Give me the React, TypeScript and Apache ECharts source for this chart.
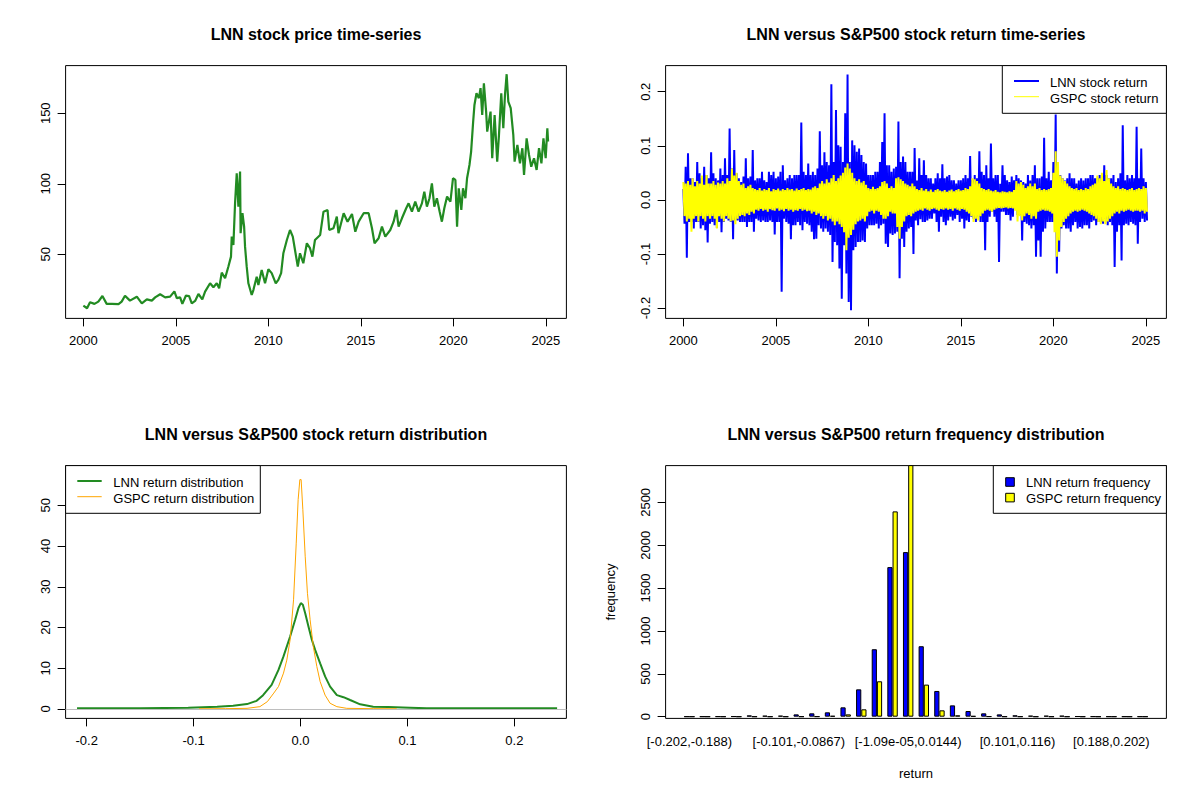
import { useEffect, useRef } from 'react'
import * as echarts from 'echarts'

const FONT = '"Liberation Sans", Arial, Helvetica, sans-serif'

// LNN closing price (decimal year, USD)
const priceYears = [
  2000.0, 2000.2, 2000.36, 2000.6, 2000.81, 2001.03, 2001.26, 2001.54, 2001.9, 2002.07,
  2002.25, 2002.52, 2002.89, 2003.16, 2003.43, 2003.7, 2003.88, 2004.15, 2004.42, 2004.69,
  2004.92, 2005.05, 2005.23, 2005.35, 2005.54, 2005.71, 2005.86, 2006.04, 2006.22, 2006.43,
  2006.58, 2006.85, 2007.03, 2007.21, 2007.34, 2007.48, 2007.66, 2007.84, 2007.98, 2008.02,
  2008.11, 2008.2, 2008.29, 2008.38, 2008.47, 2008.5, 2008.6, 2008.69, 2008.74, 2008.83,
  2008.92, 2009.1, 2009.19, 2009.37, 2009.46, 2009.64, 2009.82, 2010.0, 2010.18, 2010.4,
  2010.54, 2010.69, 2010.81, 2011.0, 2011.17, 2011.32, 2011.44, 2011.59, 2011.71, 2011.89,
  2012.08, 2012.25, 2012.38, 2012.52, 2012.8, 2012.98, 2013.2, 2013.29, 2013.52, 2013.7,
  2013.79, 2014.07, 2014.28, 2014.52, 2014.7, 2014.88, 2015.15, 2015.42, 2015.6, 2015.74,
  2015.96, 2016.14, 2016.32, 2016.59, 2016.77, 2016.92, 2017.04, 2017.22, 2017.45, 2017.58,
  2017.76, 2017.94, 2018.12, 2018.3, 2018.43, 2018.57, 2018.71, 2018.84, 2018.97, 2019.11,
  2019.26, 2019.38, 2019.51, 2019.66, 2019.84, 2019.98, 2020.11, 2020.2, 2020.29, 2020.43,
  2020.52, 2020.65, 2020.74, 2020.87, 2020.96, 2021.07, 2021.14, 2021.25, 2021.38, 2021.47,
  2021.56, 2021.65, 2021.77, 2021.83, 2022.01, 2022.1, 2022.23, 2022.37, 2022.46, 2022.59,
  2022.7, 2022.79, 2022.88, 2022.97, 2023.1, 2023.24, 2023.31, 2023.46, 2023.6, 2023.73,
  2023.82, 2023.96, 2024.09, 2024.21, 2024.36, 2024.5, 2024.63, 2024.76, 2024.87, 2024.99,
  2025.08, 2025.12,
]
const priceValues = [
  13.5, 11.7, 16.0, 14.8, 16.4, 20.4, 14.8, 14.8, 14.6, 16.4,
  20.6, 17.1, 19.9, 15.2, 18.0, 17.1, 19.4, 21.6, 19.4, 19.9,
  23.7, 18.9, 19.4, 14.8, 20.6, 20.4, 15.2, 16.9, 21.8, 18.0,
  23.5, 29.4, 26.6, 29.4, 25.9, 37.0, 33.0, 41.3, 48.3, 62.5,
  56.6, 86.2, 107.4, 83.8, 108.6, 64.9, 79.1, 69.6, 55.4, 41.2,
  29.4, 21.1, 24.6, 34.1, 28.2, 38.9, 29.4, 39.4, 36.6, 29.4,
  31.8, 36.6, 50.7, 60.1, 67.2, 62.5, 53.0, 41.2, 50.7, 43.6,
  57.8, 54.3, 48.3, 60.1, 63.7, 80.2, 81.4, 67.2, 68.4, 76.7,
  64.9, 79.1, 73.1, 78.6, 66.0, 73.1, 79.1, 79.1, 68.4, 57.8,
  61.3, 69.6, 62.5, 67.2, 73.1, 81.4, 69.6, 75.5, 82.6, 86.1,
  80.2, 87.3, 80.2, 86.1, 94.4, 83.8, 89.7, 100.3, 83.8, 89.7,
  80.2, 73.1, 82.6, 90.9, 87.3, 103.9, 102.7, 69.6, 96.8, 81.4,
  96.8, 89.7, 103.9, 113.3, 122.8, 144.1, 155.9, 164.2, 160.7, 167.8,
  148.8, 171.3, 151.2, 137.0, 151.2, 118.1, 148.8, 115.7, 133.4, 164.2,
  139.4, 163.0, 177.7, 158.3, 153.6, 134.6, 115.7, 127.5, 114.5, 125.2,
  106.2, 132.2, 120.4, 112.1, 118.1, 109.8, 125.2, 114.5, 132.2, 118.1,
  139.4, 130.0,
]

// daily returns, read as upper / lower extremes per eighth of a year from 2000
const returnStart = 2000
const returnStep = 0.125
const lnnUp = [
  0.02, 0.061, 0.086, 0.04, 0.04, 0.033, 0.07, 0.049, 0.04, 0.061,
  0.046, 0.04, 0.088, 0.049, 0.04, 0.036, 0.058, 0.046, 0.077, 0.046,
  0.132, 0.058, 0.092, 0.049, 0.04, 0.033, 0.043, 0.077, 0.04, 0.043,
  0.092, 0.036, 0.04, 0.04, 0.052, 0.036, 0.033, 0.052, 0.046, 0.052,
  0.04, 0.043, 0.052, 0.064, 0.036, 0.04, 0.046, 0.04, 0.046, 0.046,
  0.046, 0.143, 0.052, 0.046, 0.067, 0.046, 0.052, 0.046, 0.058, 0.127,
  0.064, 0.088, 0.07, 0.064, 0.214, 0.07, 0.166, 0.101, 0.098, 0.07,
  0.16, 0.232, 0.07, 0.11, 0.101, 0.089, 0.095, 0.083, 0.07, 0.067,
  0.046, 0.046, 0.046, 0.052, 0.052, 0.07, 0.107, 0.16, 0.064, 0.064,
  0.052, 0.058, 0.061, 0.145, 0.07, 0.08, 0.07, 0.052, 0.052, 0.052,
  0.096, 0.036, 0.077, 0.046, 0.073, 0.046, 0.04, 0.04, 0.03, 0.04,
  0.049, 0.04, 0.066, 0.04, 0.043, 0.046, 0.036, 0.036, 0.03, 0.036,
  0.036, 0.04, 0.046, 0.04, 0.081, 0.036, 0.046, 0.04, 0.09, 0.052,
  0.046, 0.064, 0.04, 0.104, 0.04, 0.046, 0.046, 0.03, 0.064, 0.046,
  0.036, 0.033, 0.043, 0.036, 0.046, 0.04, 0.036, 0.033, 0.03, 0.046,
  0.036, 0.046, 0.064, 0.04, 0.04, 0.043, 0.115, 0.04, 0.052, 0.036,
  0.07, 0.158, 0.052, 0.046, 0.04, 0.036, 0.04, 0.049, 0.04, 0.04,
  0.03, 0.036, 0.04, 0.036, 0.04, 0.04, 0.046, 0.046, 0.04, 0.04,
  0.046, 0.033, 0.064, 0.046, 0.04, 0.04, 0.046, 0.033, 0.04, 0.049,
  0.138, 0.036, 0.046, 0.04, 0.046, 0.04, 0.135, 0.04, 0.095, 0.04,
  0.033,
]
const lnnDown = [
  -0.044, -0.107, -0.041, -0.041, -0.053, -0.041, -0.041, -0.053, -0.047, -0.056,
  -0.079, -0.044, -0.041, -0.047, -0.052, -0.041, -0.06, -0.041, -0.035, -0.038,
  -0.041, -0.073, -0.038, -0.038, -0.041, -0.041, -0.041, -0.05, -0.041, -0.041,
  -0.059, -0.035, -0.038, -0.041, -0.038, -0.041, -0.041, -0.038, -0.041, -0.064,
  -0.041, -0.041, -0.17, -0.035, -0.041, -0.044, -0.073, -0.047, -0.047, -0.041,
  -0.047, -0.056, -0.041, -0.044, -0.047, -0.059, -0.073, -0.072, -0.047, -0.053,
  -0.059, -0.053, -0.059, -0.065, -0.115, -0.078, -0.084, -0.127, -0.183, -0.084,
  -0.136, -0.189, -0.204, -0.093, -0.087, -0.078, -0.078, -0.075, -0.078, -0.053,
  -0.047, -0.047, -0.047, -0.044, -0.053, -0.047, -0.044, -0.081, -0.087, -0.062,
  -0.065, -0.062, -0.059, -0.145, -0.072, -0.087, -0.059, -0.053, -0.05, -0.1,
  -0.038, -0.047, -0.036, -0.041, -0.041, -0.038, -0.035, -0.035, -0.025, -0.041,
  -0.059, -0.031, -0.041, -0.047, -0.038, -0.031, -0.038, -0.035, -0.028, -0.041,
  -0.035, -0.053, -0.038, -0.041, -0.031, -0.035, -0.041, -0.031, -0.041, -0.041,
  -0.093, -0.041, -0.031, -0.022, -0.031, -0.041, -0.115, -0.022, -0.022, -0.028,
  -0.028, -0.038, -0.031, -0.016, -0.028, -0.028, -0.075, -0.041, -0.044, -0.047,
  -0.053, -0.047, -0.105, -0.075, -0.105, -0.059, -0.053, -0.041, -0.041, -0.041,
  -0.041, -0.136, -0.096, -0.053, -0.047, -0.053, -0.053, -0.059, -0.047, -0.041,
  -0.053, -0.05, -0.053, -0.047, -0.047, -0.053, -0.041, -0.038, -0.047, -0.041,
  -0.041, -0.044, -0.035, -0.047, -0.041, -0.047, -0.124, -0.059, -0.047, -0.112,
  -0.047, -0.044, -0.047, -0.041, -0.044, -0.047, -0.081, -0.041, -0.035, -0.041,
  -0.038,
]
const gspcUp = [
  0.033, 0.03, 0.035, 0.028, 0.04, 0.025, 0.035, 0.03, 0.045, 0.028,
  0.046, 0.03, 0.03, 0.035, 0.028, 0.032, 0.03, 0.035, 0.03, 0.04,
  0.035, 0.058, 0.045, 0.05, 0.035, 0.028, 0.03, 0.022, 0.025, 0.028,
  0.022, 0.02, 0.018, 0.022, 0.017, 0.02, 0.018, 0.022, 0.016, 0.02,
  0.018, 0.021, 0.017, 0.02, 0.018, 0.022, 0.019, 0.02, 0.017, 0.021,
  0.018, 0.02, 0.022, 0.018, 0.02, 0.019, 0.023, 0.025, 0.022, 0.03,
  0.035, 0.03, 0.038, 0.032, 0.04, 0.046, 0.035, 0.04, 0.045, 0.05,
  0.06, 0.067, 0.058, 0.05, 0.04, 0.035, 0.038, 0.032, 0.035, 0.028,
  0.022, 0.02, 0.024, 0.02, 0.022, 0.025, 0.033, 0.035, 0.03, 0.022,
  0.025, 0.022, 0.04, 0.042, 0.038, 0.035, 0.03, 0.028, 0.025, 0.03,
  0.025, 0.02, 0.018, 0.022, 0.017, 0.02, 0.016, 0.019, 0.015, 0.018,
  0.02, 0.017, 0.016, 0.018, 0.015, 0.017, 0.019, 0.016, 0.018, 0.02,
  0.017, 0.018, 0.022, 0.02, 0.025, 0.04, 0.038, 0.035, 0.03, 0.022,
  0.02, 0.018, 0.02, 0.017, 0.016, 0.018, 0.015, 0.014, 0.016, 0.015,
  0.014, 0.016, 0.015, 0.018, 0.035, 0.03, 0.033, 0.028, 0.022, 0.025,
  0.03, 0.025, 0.03, 0.02, 0.022, 0.018, 0.02, 0.018, 0.02, 0.022,
  0.05, 0.09, 0.07, 0.045, 0.04, 0.035, 0.03, 0.025, 0.022, 0.02,
  0.022, 0.018, 0.02, 0.018, 0.022, 0.02, 0.025, 0.028, 0.03, 0.045,
  0.04, 0.05, 0.035, 0.055, 0.04, 0.03, 0.025, 0.022, 0.025, 0.02,
  0.022, 0.02, 0.018, 0.02, 0.022, 0.018, 0.02, 0.022, 0.02, 0.025,
  0.022,
]
const gspcDown = [
  -0.03, -0.04, -0.035, -0.059, -0.035, -0.03, -0.04, -0.03, -0.035, -0.04,
  -0.03, -0.035, -0.03, -0.035, -0.053, -0.03, -0.035, -0.04, -0.03, -0.035,
  -0.04, -0.038, -0.045, -0.035, -0.03, -0.028, -0.03, -0.025, -0.028, -0.022,
  -0.025, -0.018, -0.02, -0.017, -0.02, -0.018, -0.022, -0.017, -0.019, -0.02,
  -0.016, -0.02, -0.018, -0.021, -0.017, -0.02, -0.018, -0.022, -0.019, -0.02,
  -0.017, -0.02, -0.018, -0.021, -0.02, -0.025, -0.022, -0.028, -0.025, -0.03,
  -0.035, -0.03, -0.038, -0.035, -0.04, -0.047, -0.04, -0.045, -0.05, -0.06,
  -0.093, -0.07, -0.065, -0.055, -0.045, -0.04, -0.038, -0.035, -0.04, -0.03,
  -0.022, -0.02, -0.025, -0.02, -0.022, -0.028, -0.035, -0.035, -0.03, -0.022,
  -0.025, -0.025, -0.05, -0.072, -0.05, -0.04, -0.03, -0.028, -0.03, -0.025,
  -0.022, -0.02, -0.018, -0.02, -0.016, -0.018, -0.02, -0.017, -0.016, -0.018,
  -0.02, -0.017, -0.018, -0.016, -0.018, -0.017, -0.02, -0.016, -0.018, -0.02,
  -0.017, -0.018, -0.022, -0.025, -0.03, -0.041, -0.035, -0.038, -0.03, -0.025,
  -0.02, -0.018, -0.02, -0.022, -0.018, -0.016, -0.015, -0.016, -0.015, -0.014,
  -0.016, -0.015, -0.016, -0.02, -0.04, -0.03, -0.038, -0.03, -0.025, -0.028,
  -0.035, -0.03, -0.035, -0.022, -0.02, -0.018, -0.02, -0.02, -0.022, -0.025,
  -0.06, -0.105, -0.075, -0.05, -0.041, -0.035, -0.03, -0.025, -0.022, -0.02,
  -0.022, -0.02, -0.018, -0.02, -0.022, -0.025, -0.028, -0.03, -0.035, -0.041,
  -0.045, -0.04, -0.045, -0.04, -0.035, -0.03, -0.025, -0.022, -0.025, -0.02,
  -0.022, -0.02, -0.018, -0.02, -0.022, -0.02, -0.02, -0.022, -0.02, -0.025,
  -0.022,
]

// kernel density estimates of the returns
const lnnDensX = [
  -0.209, -0.15, -0.105, -0.078, -0.063, -0.05, -0.041, -0.035, -0.027, -0.0206,
  -0.0159, -0.0097, -0.005, -0.0019, 0.0003, 0.0022, 0.0044, 0.0075, 0.0106, 0.0137,
  0.0184, 0.023, 0.0277, 0.034, 0.0402, 0.0464, 0.0558, 0.068, 0.082, 0.1025,
  0.118, 0.18, 0.24,
]
const lnnDensY = [
  0.16, 0.16, 0.33, 0.57, 0.8, 1.2, 2.0, 3.4, 5.9, 9.6,
  12.9, 17.8, 21.9, 24.8, 26.0, 25.6, 23.5, 20.2, 17.0, 14.5,
  11.2, 8.0, 5.5, 3.4, 2.9, 2.2, 1.15, 0.57, 0.5, 0.33,
  0.16, 0.16, 0.16,
]
const gspcDensX = [
  -0.095, -0.07, -0.05, -0.038, -0.031, -0.025, -0.0206, -0.0159, -0.0128, -0.0097,
  -0.0065, -0.004, -0.0022, -0.0006, 0.0006, 0.0022, 0.0044, 0.0065, 0.009, 0.012,
  0.0153, 0.0184, 0.023, 0.0277, 0.034, 0.0433, 0.068, 0.09,
]
const gspcDensY = [
  0.05, 0.08, 0.16, 0.57, 1.8, 3.9, 5.5, 8.8, 12.0, 17.0,
  26.8, 40.7, 51.4, 56.3, 56.3, 48.9, 37.5, 28.4, 21.9, 15.3,
  10.4, 6.7, 3.4, 1.4, 0.57, 0.16, 0.08, 0.05,
]

// frequency table
const histBins = [
  '[-0.202,-0.188)', '[-0.188,-0.173)', '[-0.173,-0.159)', '[-0.159,-0.144)', '[-0.144,-0.13)',
  '[-0.13,-0.116)', '[-0.116,-0.101)', '[-0.101,-0.0867)', '[-0.0867,-0.0723)', '[-0.0723,-0.0578)',
  '[-0.0578,-0.0434)', '[-0.0434,-0.0289)', '[-0.0289,-0.0145)', '[-0.0145,-1.09e-05)', '[-1.09e-05,0.0144)',
  '[0.0144,0.0289)', '[0.0289,0.0433)', '[0.0433,0.0578)', '[0.0578,0.0722)', '[0.0722,0.0867)',
  '[0.0867,0.101)', '[0.101,0.116)', '[0.116,0.13)', '[0.13,0.144)', '[0.144,0.159)',
  '[0.159,0.173)', '[0.173,0.188)', '[0.188,0.202)', '[0.202,0.217)', '[0.217,0.231)',
]
const lnnFreq = [
  1, 1, 2, 3, 15, 12, 12, 27, 39, 51,
  109, 319, 787, 1745, 1920, 822, 300, 132, 66, 39,
  27, 16, 12, 12, 12, 4, 2, 1, 1, 1,
]
const gspcFreq = [
  0, 0, 0, 0, 0, 0, 0, 1, 2, 10,
  27, 86, 413, 2395, 2950, 374, 74, 16, 8, 3,
  1, 1, 0, 0, 0, 0, 0, 0, 0, 0,
]

const yearTicks = [2000, 2005, 2010, 2015, 2020, 2025]
const priceTicks = [50, 100, 150]
const returnTicks = [-0.2, -0.1, 0, 0.1, 0.2]
const densXTicks = [-0.2, -0.1, 0, 0.1, 0.2]
const densYTicks = [0, 10, 20, 30, 40, 50]
const freqTicks = [0, 500, 1000, 1500, 2000, 2500]
const binLabelIdx = [0, 7, 14, 21, 27]

const PW = 500.8
const PH = 252.8

function valueAxis(gridIndex: number, min: number, max: number, ticks: number[], vertical: boolean, fmt?: (v: number) => string) {
  return {
    type: 'value',
    gridIndex,
    min,
    max,
    axisLine: { show: false, onZero: false },
    splitLine: { show: false },
    axisTick: { show: true, inside: false, length: 8, customValues: ticks, lineStyle: { color: '#000', width: 1 } },
    axisLabel: {
      customValues: ticks,
      color: '#000',
      fontSize: 13,
      fontFamily: FONT,
      margin: vertical ? 14 : 16,
      rotate: vertical ? 90 : 0,
      formatter: fmt ?? ((v: number) => String(v)),
    },
  }
}

function zigzag(up: number[], down: number[]) {
  const pts: number[][] = []
  up.forEach((u, i) => {
    const t = returnStart + i * returnStep
    pts.push([t, u])
    pts.push([t + returnStep / 2, down[i]])
  })
  return pts
}

function txt(x: number, y: number, text: string, opts: any = {}) {
  return {
    type: 'text',
    x,
    y,
    z: 100,
    rotation: opts.rotation ?? 0,
    style: {
      text,
      fill: '#000',
      font: opts.font ?? `13px ${FONT}`,
      textAlign: opts.align ?? 'left',
      textVerticalAlign: 'middle',
    },
  }
}

function legendBox(x: number, y: number, w: number, h: number) {
  return { type: 'rect', z: 99, shape: { x, y, width: w, height: h }, style: { fill: '#fff', stroke: '#000', lineWidth: 1 } }
}

function legendLine(x1: number, x2: number, y: number, color: string, width: number) {
  return { type: 'line', z: 100, shape: { x1, y1: y, x2, y2: y }, style: { stroke: color, lineWidth: width } }
}

export default function App() {
  const chartRef = useRef<HTMLDivElement>(null)

  useEffect(() => {
    if (!chartRef.current) return
    document.body.style.margin = '0'
    const chart = echarts.init(chartRef.current, null, { renderer: 'svg' })

    const fmt1 = (v: number) => v.toFixed(1)
    const titleFont = `bold 16px ${FONT}`

    const option = {
      animation: false,
      grid: [
        { left: 65.6, top: 65.6, width: PW, height: PH, show: true, borderColor: '#000', borderWidth: 1 },
        { left: 665.6, top: 65.6, width: PW, height: PH, show: true, borderColor: '#000', borderWidth: 1 },
        { left: 65.6, top: 465.6, width: PW, height: PH, show: true, borderColor: '#000', borderWidth: 1 },
        { left: 681.54, top: 465.6, width: 468.9, height: PH },
        { left: 665.6, top: 465.6, width: PW, height: PH, show: true, borderColor: '#000', borderWidth: 1 },
      ],
      xAxis: [
        valueAxis(0, 1999.04, 2026.11, yearTicks, false),
        valueAxis(1, 1999.04, 2026.11, yearTicks, false),
        valueAxis(2, -0.2197, 0.2487, densXTicks, false, fmt1),
        {
          type: 'category',
          gridIndex: 3,
          data: histBins,
          axisLine: { show: false, onZero: false },
          axisTick: { show: false },
          splitLine: { show: false },
          axisLabel: {
            interval: (index: number) => binLabelIdx.includes(index),
            color: '#000',
            fontSize: 13,
            fontFamily: FONT,
            margin: 17,
          },
        },
        { type: 'value', gridIndex: 4, min: 0, max: 1, show: false },
      ],
      yAxis: [
        valueAxis(0, 4.5, 183.8, priceTicks, true),
        valueAxis(1, -0.2192, 0.2483, returnTicks, true, fmt1),
        valueAxis(2, -2.31, 59.74, densYTicks, true),
        { ...valueAxis(3, -20, 2929, freqTicks, true), offset: 15.94 },
        { type: 'value', gridIndex: 4, min: 0, max: 1, show: false },
      ],
      series: [
        {
          type: 'line',
          xAxisIndex: 0,
          yAxisIndex: 0,
          data: priceYears.map((t, i) => [t, priceValues[i]]),
          showSymbol: false,
          symbol: 'none',
          lineStyle: { color: '#228B22', width: 2.2 },
          itemStyle: { color: '#228B22' },
        },
        {
          type: 'line',
          xAxisIndex: 1,
          yAxisIndex: 1,
          data: zigzag(lnnUp, lnnDown),
          symbol: 'none',
          lineStyle: { color: '#0000FF', width: 2 },
          itemStyle: { color: '#0000FF' },
        },
        {
          type: 'line',
          xAxisIndex: 1,
          yAxisIndex: 1,
          data: zigzag(gspcUp, gspcDown),
          symbol: 'none',
          lineStyle: { color: '#FFFF00', width: 2 },
          itemStyle: { color: '#FFFF00' },
        },
        {
          type: 'line',
          xAxisIndex: 2,
          yAxisIndex: 2,
          data: lnnDensX.map((x, i) => [x, lnnDensY[i]]),
          symbol: 'none',
          lineStyle: { color: '#228B22', width: 2 },
          itemStyle: { color: '#228B22' },
          markLine: {
            silent: true,
            symbol: ['none', 'none'],
            label: { show: false },
            lineStyle: { color: '#BEBEBE', width: 1, type: 'solid' },
            data: [{ yAxis: 0 }],
          },
        },
        {
          type: 'line',
          xAxisIndex: 2,
          yAxisIndex: 2,
          data: gspcDensX.map((x, i) => [x, gspcDensY[i]]),
          symbol: 'none',
          lineStyle: { color: '#FFA500', width: 1 },
          itemStyle: { color: '#FFA500' },
        },
        {
          type: 'bar',
          xAxisIndex: 3,
          yAxisIndex: 3,
          data: lnnFreq,
          barGap: '0%',
          barCategoryGap: '33.34%',
          clip: true,
          itemStyle: { color: '#0000FF', borderColor: '#000', borderWidth: 1 },
        },
        {
          type: 'bar',
          xAxisIndex: 3,
          yAxisIndex: 3,
          data: gspcFreq,
          barGap: '0%',
          barCategoryGap: '33.34%',
          clip: true,
          itemStyle: { color: '#FFFF00', borderColor: '#000', borderWidth: 1 },
        },
      ],
      graphic: [
        txt(316, 34, 'LNN stock price time-series', { font: titleFont, align: 'center' }),
        txt(916, 34, 'LNN versus S&P500 stock return time-series', { font: titleFont, align: 'center' }),
        txt(316, 434, 'LNN versus S&P500 stock return distribution', { font: titleFont, align: 'center' }),
        txt(916, 434, 'LNN versus S&P500 return frequency distribution', { font: titleFont, align: 'center' }),
        txt(610.7, 592, 'frequency', { align: 'center', rotation: Math.PI / 2 }),
        txt(916, 773, 'return', { align: 'center' }),

        legendBox(1002.3, 65.6, 164.1, 47.7),
        legendLine(1014, 1039, 81, '#0000FF', 2),
        legendLine(1014, 1039, 96.7, '#FFFF00', 1),
        txt(1050, 82, 'LNN stock return'),
        txt(1050, 98, 'GSPC stock return'),

        legendBox(65.6, 465.6, 194.7, 47.7),
        legendLine(77.3, 101.7, 481, '#228B22', 2),
        legendLine(77.3, 101.7, 496.7, '#FFA500', 1),
        txt(113.3, 482, 'LNN return distribution'),
        txt(113.3, 498, 'GSPC return distribution'),

        legendBox(993.3, 465.6, 173.1, 47.7),
        { type: 'rect', z: 100, shape: { x: 1005.7, y: 477.7, width: 8.6, height: 8.6 }, style: { fill: '#0000FF', stroke: '#000', lineWidth: 1 } },
        { type: 'rect', z: 100, shape: { x: 1005.7, y: 493.3, width: 8.6, height: 8.6 }, style: { fill: '#FFFF00', stroke: '#000', lineWidth: 1 } },
        txt(1026, 482, 'LNN return frequency'),
        txt(1026, 498, 'GSPC return frequency'),
      ],
    }

    chart.setOption(option as any)

    return () => {
      chart.dispose()
    }
  }, [])

  return <div ref={chartRef} style={{ width: '1200px', height: '800px', background: '#fff' }} />
}
